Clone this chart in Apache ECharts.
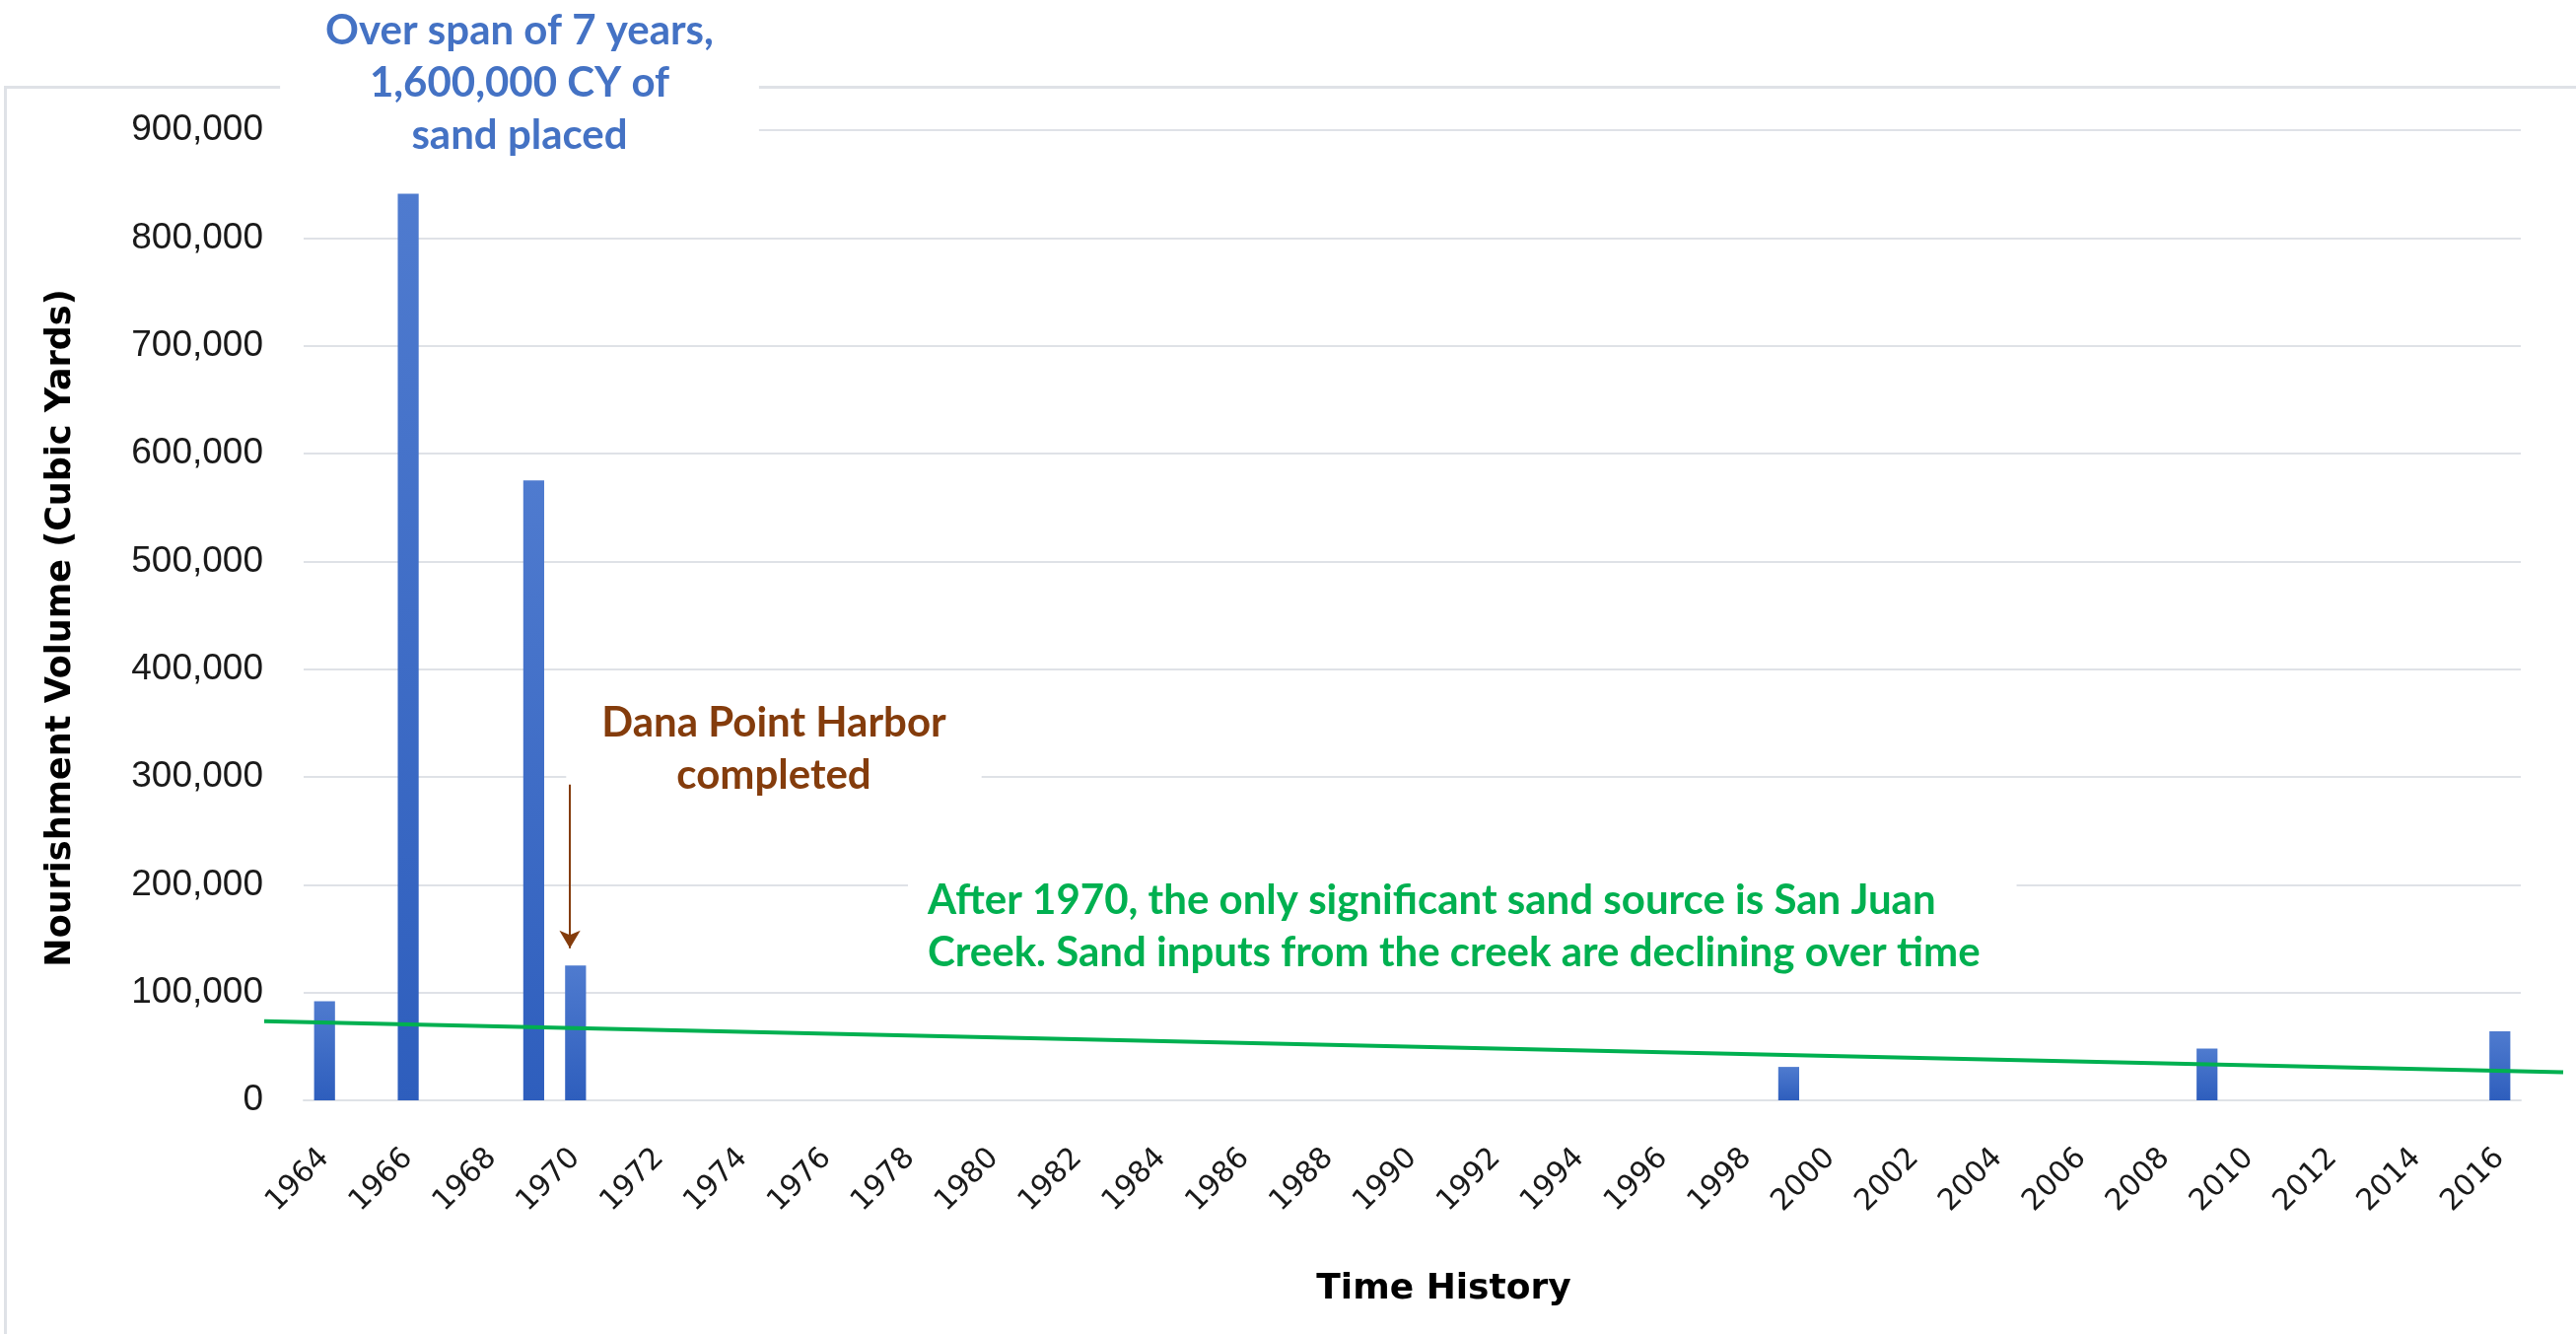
<!DOCTYPE html>
<html>
<head>
<meta charset="utf-8">
<title>Nourishment Volume</title>
<script src="https://cdn.jsdelivr.net/npm/echarts@6/dist/echarts.min.js"></script>
<style>
  html, body { margin: 0; padding: 0; background: #fff; }
  #chart { width: 2613px; height: 1353px; }
</style>
</head>
<body>
<div id="chart"></div>
<script>
const years = [
  '1964', '1965', '1966', '1967', '1968', '1969', '1970', '1971', '1972', '1973',
  '1974', '1975', '1976', '1977', '1978', '1979', '1980', '1981', '1982', '1983',
  '1984', '1985', '1986', '1987', '1988', '1989', '1990', '1991', '1992', '1993',
  '1994', '1995', '1996', '1997', '1998', '1999', '2000', '2001', '2002', '2003',
  '2004', '2005', '2006', '2007', '2008', '2009', '2010', '2011', '2012', '2013',
  '2014', '2015', '2016'
]
// years with sand placed, and how much (cubic yards)
const placedYears = ['1964', '1966', '1969', '1970', '1999', '2009', '2016']
const placedVolumes = [92000, 841000, 575000, 125000, 31000, 48000, 64000]
// linear trend, runs past both ends of the bar axis like the excel trendline
const trendYears = [1962.56, 2017.54]
const trendVolumes = [73500, 26100]
// harbor arrow
const arrowYear = 1969.87
const arrowVolumes = [293000, 141000]

const blueNote = 'Over span of 7 years,\n1,600,000 CY of\nsand placed'
const brownNote = 'Dana Point Harbor\ncompleted'
const greenNote = 'After 1970, the only significant sand source is San Juan\nCreek. Sand inputs from the creek are declining over time'

const barData = years.map(function(y) {
  const i = placedYears.indexOf(y)
  return i >= 0 ? placedVolumes[i] : '-'
})
const trendData = trendYears.map(function(y, i) {
  return [y, trendVolumes[i]]
})

const noteFont = 'bold 42px Lato, "Open Sans", sans-serif'

const myChart = echarts.init(document.getElementById('chart'))
const option = {
  animation: false,
  backgroundColor: '#fff',
  grid: [{
    left: 308,
    right: 56,
    top: 132,
    bottom: 237
  }, {
    // wider grid for the trendline, same vertical scale
    left: 268,
    right: 13,
    top: 132,
    bottom: 237
  }],
  xAxis: [{
    type: 'category',
    gridIndex: 0,
    data: years,
    name: 'Time History',
    nameLocation: 'middle',
    nameGap: 174,
    nameTextStyle: {
      fontFamily: 'DejaVu Sans',
      fontWeight: 'bold',
      fontSize: 36,
      color: '#000',
      padding: [0, 0, 0, 64]
    },
    axisLine: { lineStyle: { color: '#dfe2e7', width: 2 } },
    axisTick: { show: false },
    axisLabel: {
      interval: 1,
      rotate: 45,
      margin: 54,
      fontFamily: 'DejaVu Sans',
      fontSize: 30,
      color: '#1a1a1a'
    }
  }, {
    type: 'value',
    gridIndex: 1,
    min: trendYears[0],
    max: trendYears[1],
    show: false
  }],
  yAxis: [{
    type: 'value',
    gridIndex: 0,
    min: 0,
    max: 900000,
    interval: 100000,
    name: 'Nourishment Volume (Cubic Yards)',
    nameLocation: 'middle',
    nameGap: 226,
    nameTextStyle: {
      fontFamily: 'DejaVu Sans',
      fontWeight: 'bold',
      fontSize: 35,
      lineHeight: 40,
      color: '#000',
      padding: [0, 26, 0, 0]
    },
    axisLine: { show: false },
    axisTick: { show: false },
    splitLine: { lineStyle: { color: '#dfe2e7', width: 2 } },
    axisLabel: {
      margin: 41,
      fontFamily: 'Liberation Sans',
      fontSize: 37,
      color: '#1a1a1a',
      formatter: function(v) {
        return v.toLocaleString('en-US')
      }
    }
  }, {
    type: 'value',
    gridIndex: 1,
    min: 0,
    max: 900000,
    show: false
  }],
  series: [{
    type: 'bar',
    xAxisIndex: 0,
    yAxisIndex: 0,
    z: 5,
    data: barData,
    barCategoryGap: '50%',
    itemStyle: {
      color: new echarts.graphic.LinearGradient(0, 0, 0, 1, [
        { offset: 0, color: '#4f7bcf' },
        { offset: 1, color: '#2e5ebd' }
      ])
    }
  }, {
    type: 'line',
    xAxisIndex: 1,
    yAxisIndex: 1,
    data: trendData,
    symbol: 'none',
    z: 6,
    lineStyle: { color: '#00b050', width: 4 },
    markLine: {
      silent: true,
      symbol: ['none', 'arrow'],
      symbolSize: [16, 18],
      label: { show: false },
      lineStyle: { color: '#843c0c', width: 2, type: 'solid' },
      data: [[
        { coord: [arrowYear, arrowVolumes[0]] },
        { coord: [arrowYear, arrowVolumes[1]] }
      ]]
    }
  }],
  // note boxes sit over the gridlines but under the bars and arrow
  graphic: [{
    type: 'rect',
    z: 1,
    silent: true,
    shape: { x: 5.5, y: 88.5, width: 2700, height: 1400 },
    style: { fill: 'none', stroke: '#dfe2e7', lineWidth: 3 }
  }, {
    type: 'text',
    z: 2,
    x: 527,
    y: 84,
    style: {
      text: blueNote,
      font: noteFont,
      fill: '#4472c4',
      align: 'center',
      verticalAlign: 'middle',
      lineHeight: 53,
      backgroundColor: '#fff',
      padding: [20, 46, 20, 46]
    }
  }, {
    type: 'text',
    z: 2,
    x: 785,
    y: 760,
    style: {
      text: brownNote,
      font: noteFont,
      fill: '#843c0c',
      align: 'center',
      verticalAlign: 'middle',
      lineHeight: 53,
      backgroundColor: '#fff',
      padding: [15, 36, 15, 36]
    }
  }, {
    type: 'text',
    z: 2,
    x: 921,
    y: 940,
    style: {
      text: greenNote,
      font: noteFont,
      fill: '#00b050',
      align: 'left',
      verticalAlign: 'middle',
      lineHeight: 53,
      backgroundColor: '#fff',
      padding: [10, 37, 10, 20]
    }
  }]
}
myChart.setOption(option)
</script>
</body>
</html>
